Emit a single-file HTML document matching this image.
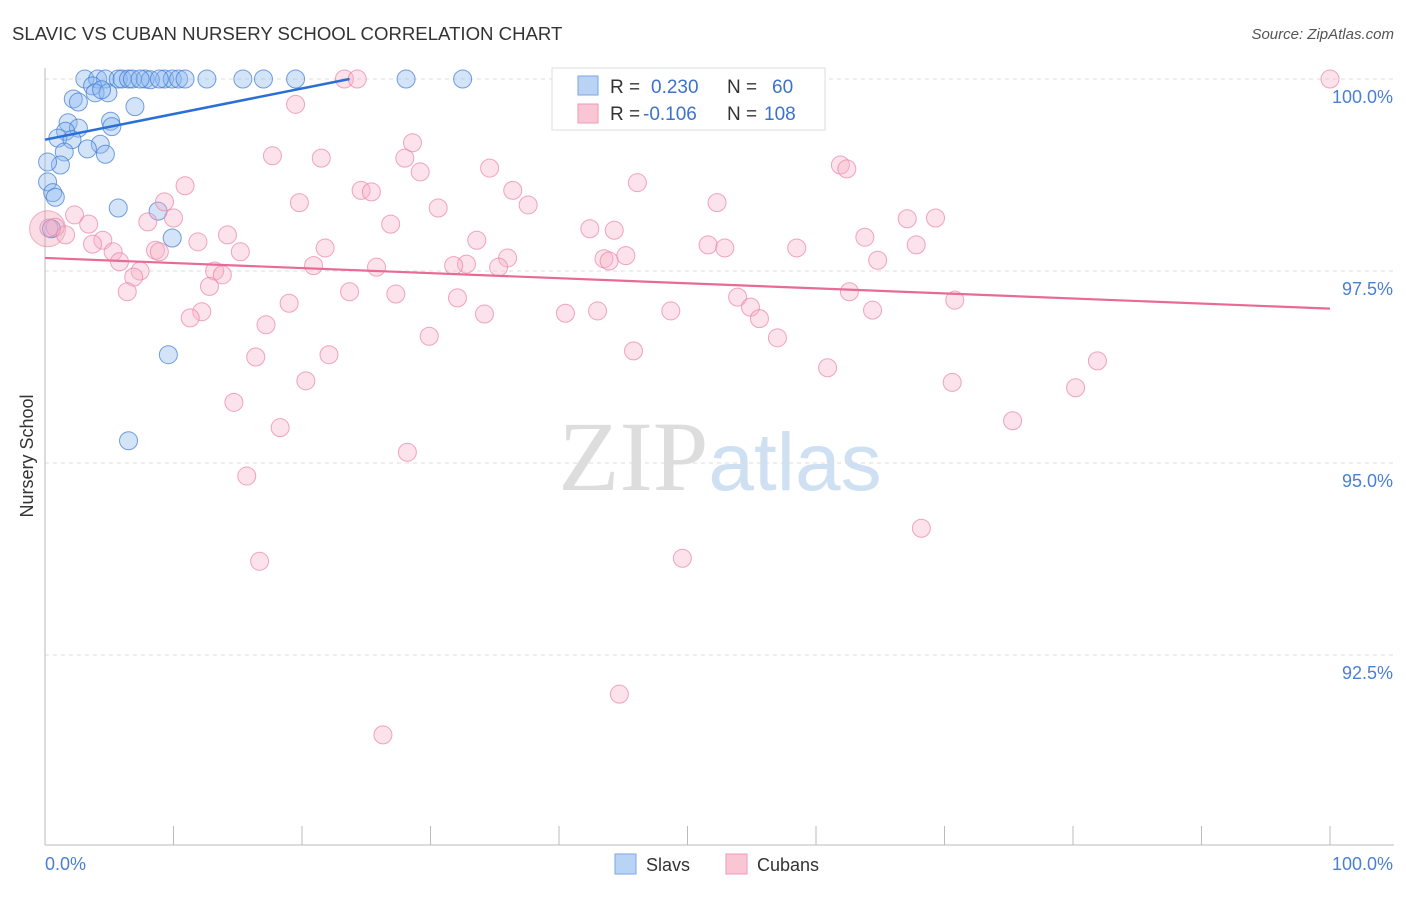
<!DOCTYPE html>
<html><head><meta charset="utf-8"><style>
body{margin:0;background:#fff;font-family:"Liberation Sans",sans-serif}
svg text{font-family:"Liberation Sans",sans-serif}
</style></head><body>
<svg id="chart" width="1406" height="892" xmlns="http://www.w3.org/2000/svg">
<text x="12" y="40" font-size="18.6" fill="#333">SLAVIC VS CUBAN NURSERY SCHOOL CORRELATION CHART</text>
<text x="1394" y="39" font-size="15" fill="#555" text-anchor="end" font-style="italic">Source: ZipAtlas.com</text>
<text x="720" y="490" font-size="100" text-anchor="middle"><tspan fill="#ddd" font-family="Liberation Serif">ZIP</tspan><tspan fill="#cfe0f3" font-size="82">atlas</tspan></text>
<g id="grid"></g><g id="axes"></g><g id="pts"></g><g id="trends"></g>
<text transform="translate(33,456) rotate(-90)" font-size="18" fill="#333" text-anchor="middle">Nursery School</text>
<text x="45" y="870" font-size="18" fill="#4a7fd4">0.0%</text>
<text x="1393" y="870" font-size="18" fill="#4a7fd4" text-anchor="end">100.0%</text>
<g>
<rect x="552" y="68" width="273" height="62" fill="#fff" stroke="#ddd"/>
<rect x="578" y="76" width="20" height="19" fill="#b9d3f5" stroke="#7aa6e6"/>
<rect x="578" y="104" width="20" height="19" fill="#fac6d6" stroke="#ef9ab4"/>
<text x="610" y="93" font-size="19" fill="#333">R = </text><text x="651" y="93" font-size="19" fill="#3d72cc">0.230</text>
<text x="727" y="93" font-size="19" fill="#333">N = </text><text x="772" y="93" font-size="19" fill="#3d72cc">60</text>
<text x="610" y="120" font-size="19" fill="#333">R = </text><text x="643" y="120" font-size="19" fill="#3d72cc">-0.106</text>
<text x="727" y="120" font-size="19" fill="#333">N = </text><text x="764" y="120" font-size="19" fill="#3d72cc">108</text>
</g>
<g>
<rect x="615" y="854" width="21" height="20" fill="#b9d3f5" stroke="#7aa6e6"/>
<text x="646" y="871" font-size="18" fill="#333">Slavs</text>
<rect x="726" y="854" width="21" height="20" fill="#fac6d6" stroke="#ef9ab4"/>
<text x="757" y="871" font-size="18" fill="#333">Cubans</text>
</g>
</svg>
<script>
const yTicks=[100,97.5,95,92.5];
const yTickLabels=["100.0%","97.5%","95.0%","92.5%"];
const xTicks=[0,10,20,30,40,50,60,70,80,90,100];
const slavs=[[3.1,100],[4.1,100],[4.7,100],[5.7,100],[6.0,100],[6.5,100],[6.8,100],[7.8,100],[9.3,100],[9.9,100],[10.4,100],[10.9,100],[12.6,100],[15.4,100],[17.0,100],[19.5,100],[28.1,100],[32.5,100],[3.7,99.91],[3.9,99.82],[4.9,99.82],[2.2,99.74],[2.6,99.70],[7.0,99.64],[1.8,99.43],[5.1,99.45],[5.2,99.38],[2.6,99.36],[1.6,99.32],[1.0,99.23],[2.1,99.21],[4.3,99.15],[3.3,99.09],[1.5,99.05],[1.2,98.88],[4.7,99.02],[0.2,98.92],[0.2,98.66],[0.6,98.52],[0.8,98.46],[5.7,98.32],[8.8,98.28],[9.9,97.93],[0.5,98.05],[9.6,96.41],[6.5,95.29],[4.4,99.86],[8.2,99.99],[7.4,100],[8.9,100]];
const cubans=[[100,100],[23.3,100],[24.3,100],[19.5,99.67],[28.6,99.17],[17.7,99.0],[21.5,98.97],[28.0,98.97],[34.6,98.84],[29.2,98.79],[61.9,98.88],[62.4,98.83],[10.9,98.61],[46.1,98.65],[36.4,98.55],[24.6,98.55],[25.4,98.53],[19.8,98.39],[37.6,98.36],[52.3,98.39],[30.6,98.32],[9.3,98.40],[2.3,98.23],[10.0,98.19],[8.0,98.14],[3.4,98.11],[0.8,98.07],[0.3,98.06],[1.6,97.97],[67.1,98.18],[69.3,98.19],[26.9,98.11],[42.4,98.05],[44.3,98.03],[14.2,97.97],[63.8,97.94],[33.6,97.90],[11.9,97.88],[4.5,97.90],[51.6,97.84],[52.9,97.80],[58.5,97.80],[67.8,97.84],[3.7,97.85],[21.8,97.80],[8.6,97.77],[8.9,97.75],[15.2,97.75],[5.3,97.75],[36.0,97.67],[43.5,97.66],[45.2,97.70],[43.9,97.63],[64.8,97.64],[32.8,97.59],[31.8,97.57],[35.3,97.55],[5.8,97.62],[20.9,97.57],[25.8,97.55],[7.4,97.50],[13.2,97.50],[13.8,97.45],[6.9,97.42],[12.8,97.30],[6.4,97.23],[23.7,97.23],[27.3,97.20],[53.9,97.16],[62.6,97.23],[32.1,97.15],[19.0,97.08],[54.9,97.03],[70.8,97.12],[40.5,96.95],[43.0,96.98],[48.7,96.98],[34.2,96.94],[12.2,96.97],[11.3,96.89],[55.6,96.88],[64.4,96.99],[17.2,96.80],[29.9,96.65],[57.0,96.63],[45.8,96.46],[22.1,96.41],[16.4,96.38],[81.9,96.33],[60.9,96.24],[20.3,96.07],[70.6,96.05],[80.2,95.98],[14.7,95.79],[75.3,95.55],[18.3,95.46],[28.2,95.14],[15.7,94.83],[68.2,94.15],[49.6,93.76],[16.7,93.72],[44.7,91.99],[26.3,91.46]];
const slavTrend=[[0,99.21],[23.7,100]];
const cubanTrend=[[0,97.67],[100,97.01]];
const NS="http://www.w3.org/2000/svg";
const X=v=>45+v/100*1285, Y=v=>79+(100-v)*76.8;
function mk(p,t,a){const e=document.createElementNS(NS,t);for(const k in a)e.setAttribute(k,a[k]);document.getElementById(p).appendChild(e);return e;}
yTicks.forEach((t,i)=>{
 const l=mk('grid','line',{x1:45,x2:1394,y1:Y(t),y2:Y(t),stroke:'#ddd','stroke-dasharray':'4,4'});
 
 
 const tx=mk('grid','text',{x:1393,y:Y(t)+24,'font-size':18,fill:'#4a7fd4','text-anchor':'end'});
 tx.textContent=yTickLabels[i];
 
 
});
const ax=mk('axes','line',{x1:45,x2:45,y1:68,y2:845,stroke:'#bbb'});


const bx=mk('axes','line',{x1:45,x2:1394,y1:845,y2:845,stroke:'#bbb'});


xTicks.forEach(t=>{
 const l=mk('axes','line',{x1:X(t),x2:X(t),y1:826,y2:845,stroke:'#bbb'});
 
 
});
const big1=mk('pts','circle',{cx:X(0.2),cy:Y(98.05),r:18,fill:'rgba(240,140,170,0.3)',stroke:'rgba(230,110,150,0.5)'});


slavs.forEach(d=>{
 const c=mk('pts','circle',{cx:X(d[0]),cy:Y(d[1]),r:9,fill:'rgba(140,185,240,0.38)',stroke:'rgba(60,120,210,0.7)','stroke-width':1});
 
 
});
cubans.forEach(d=>{
 const c=mk('pts','circle',{cx:X(d[0]),cy:Y(d[1]),r:9,fill:'rgba(248,180,200,0.38)',stroke:'rgba(235,130,165,0.7)','stroke-width':1});
 
 
});
const t1=mk('trends','line',{x1:X(slavTrend[0][0]),y1:Y(slavTrend[0][1]),x2:X(slavTrend[1][0]),y2:Y(slavTrend[1][1]),stroke:'#2a6fd6','stroke-width':2.5});


const t2=mk('trends','line',{x1:X(cubanTrend[0][0]),y1:Y(cubanTrend[0][1]),x2:X(cubanTrend[1][0]),y2:Y(cubanTrend[1][1]),stroke:'#e86a96','stroke-width':2.2});


</script>
</body></html>
